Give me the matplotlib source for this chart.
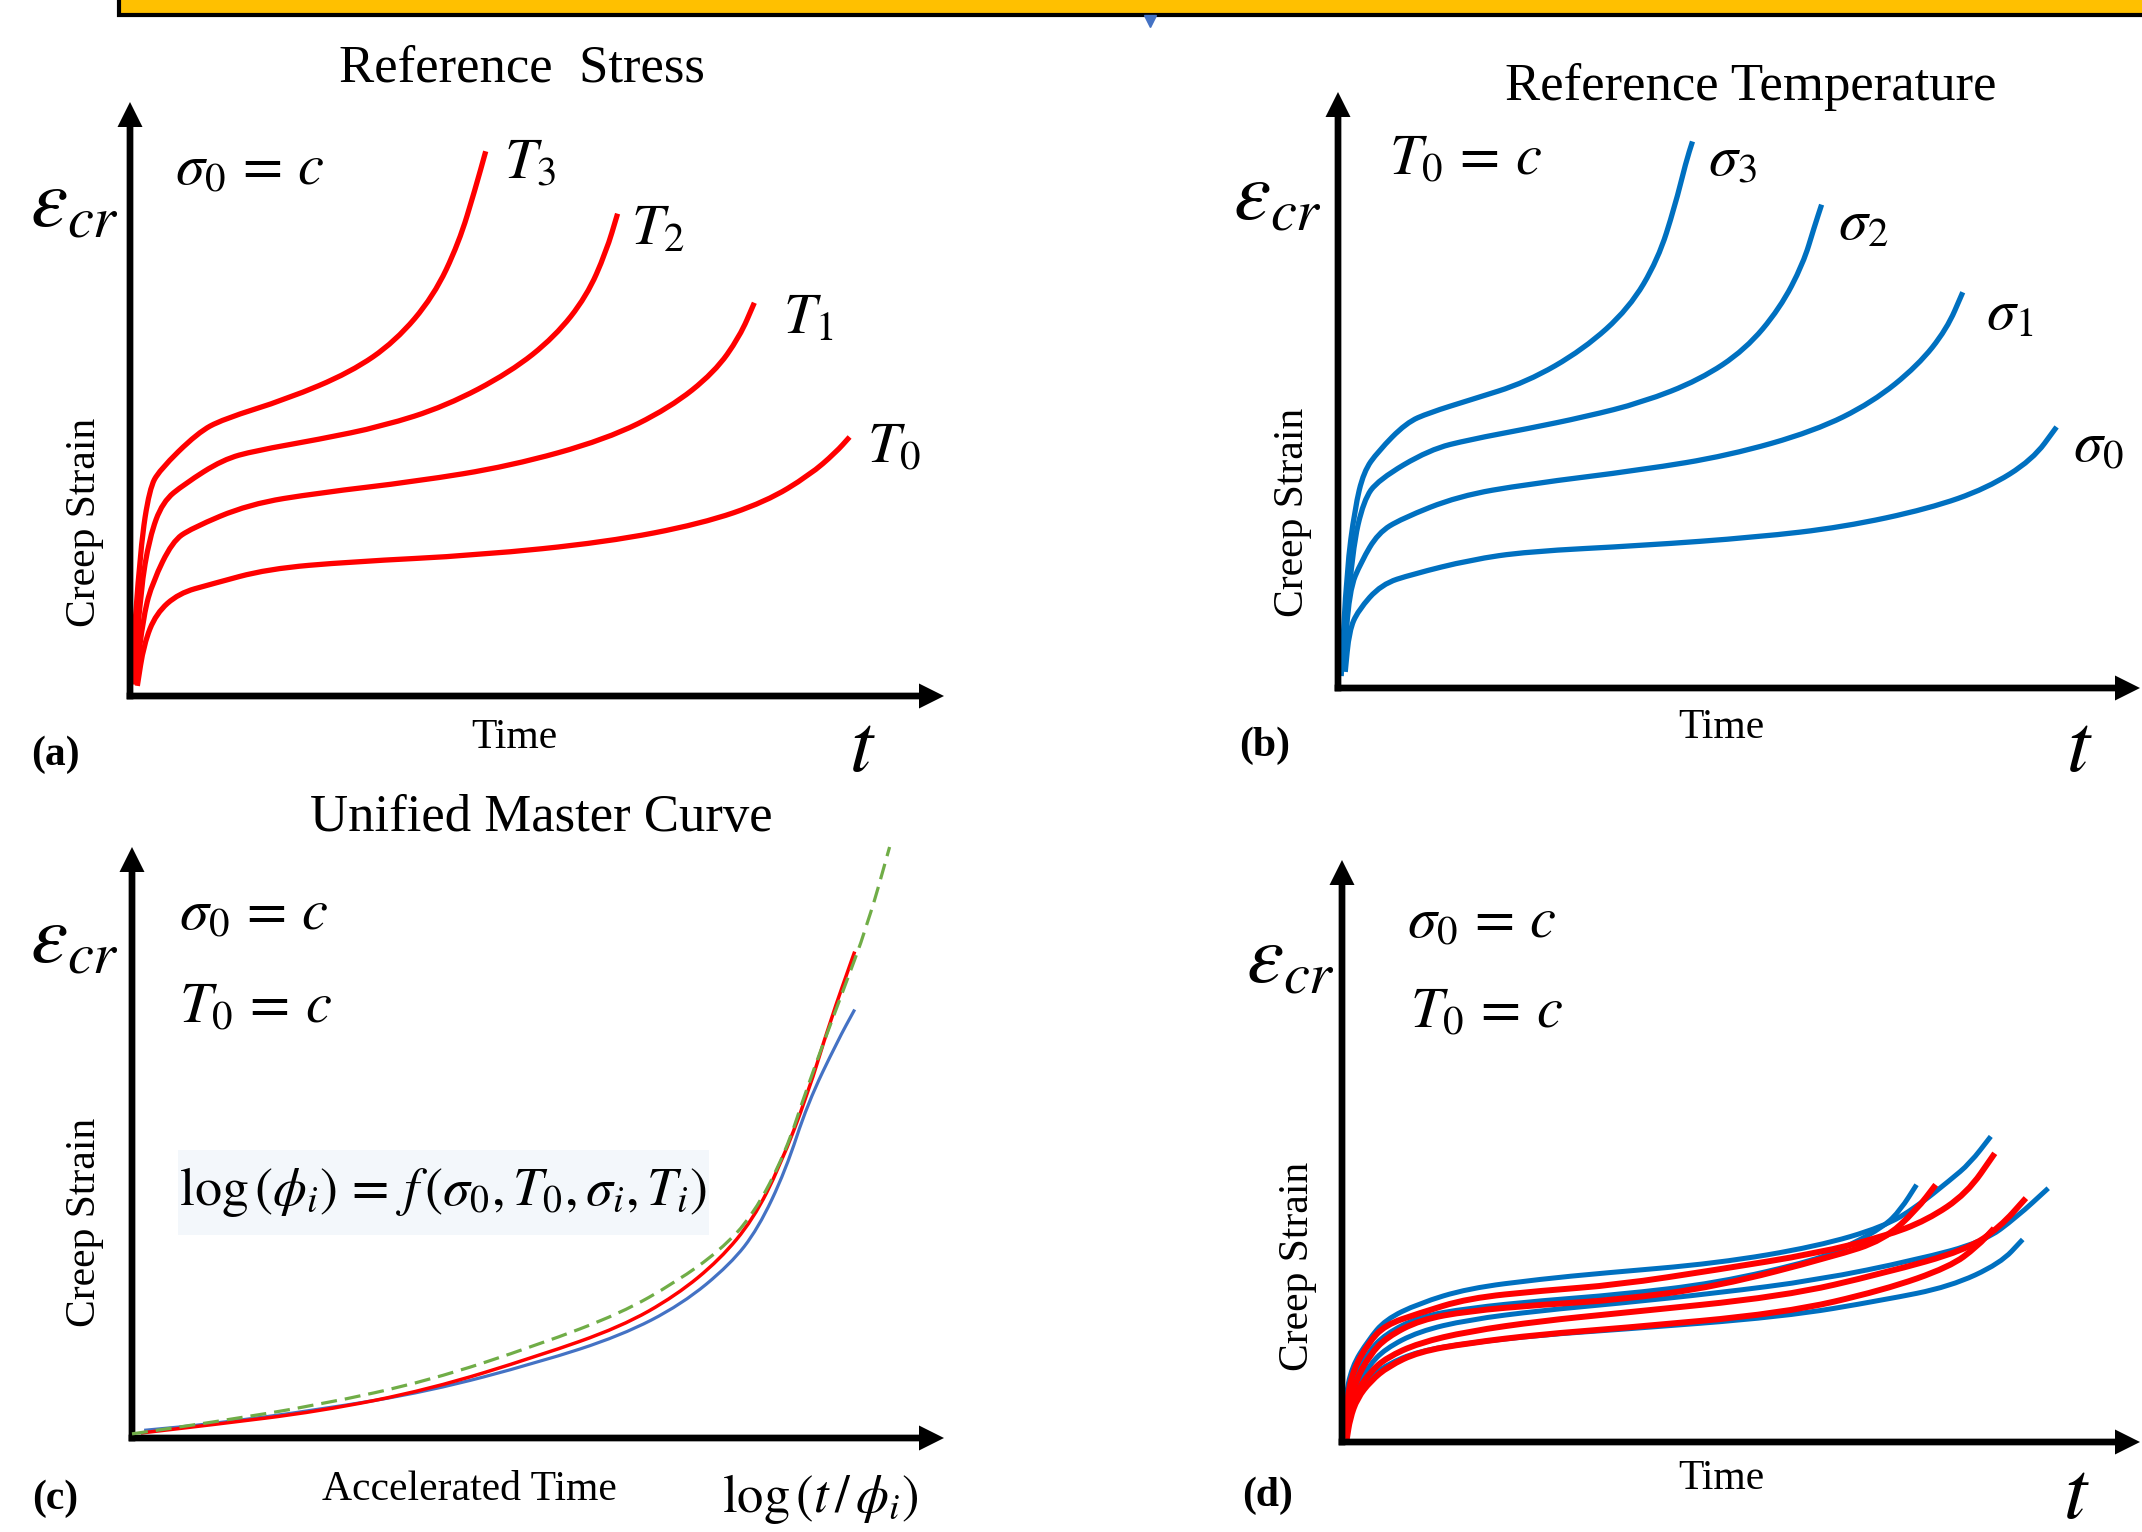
import numpy as np
import matplotlib
matplotlib.use("Agg")
import matplotlib.pyplot as plt
from matplotlib.path import Path
from matplotlib.patches import PathPatch, Rectangle
from matplotlib.lines import Line2D

plt.rcParams['font.family'] = ['Liberation Serif', 'DejaVu Serif']
plt.rcParams['mathtext.fontset'] = 'stix'

# ---------------- data (time, strain in arbitrary units 0..100) ----------------
# (a) reference stress, different temperatures
time_T3 = [0.1, 1.3, 2.4, 3.6, 8.3, 11.4, 19.3, 27.1, 32.6, 37.3, 40.4, 42.4, 43.7]
strain_T3 = [2.3, 25.2, 34.9, 38.0, 44.3, 46.6, 50.0, 54.5, 59.7, 67.3, 76.3, 85.3, 91.7]
time_T2 = [0.5, 1.3, 2.4, 4.0, 6.7, 11.4, 15.4, 23.2, 31.0, 38.8, 46.7, 52.2, 56.1, 58.5, 59.9]
strain_T2 = [2.3, 17.7, 26.7, 32.7, 35.7, 39.8, 41.3, 43.2, 45.4, 48.8, 54.5, 60.5, 67.3, 74.8, 81.2]
time_T1 = [0.6, 1.7, 2.8, 5.2, 7.5, 14.6, 23.2, 35.0, 46.7, 58.5, 66.3, 71.8, 74.9, 76.7]
strain_T1 = [1.9, 13.9, 19.2, 26.0, 28.2, 32.3, 34.2, 36.1, 38.7, 43.2, 48.5, 54.5, 60.5, 66.2]
time_T0 = [0.9, 1.7, 3.2, 6.0, 9.9, 16.9, 27.1, 42.8, 58.5, 70.2, 78.1, 83.5, 86.7, 88.4]
strain_T0 = [1.7, 8.7, 13.9, 17.3, 18.8, 21.4, 22.6, 23.7, 25.9, 29.0, 32.7, 37.2, 41.0, 43.6]
labels_a = ['$T_3$', '$T_2$', '$T_1$', '$T_0$']

# (b) reference temperature, different stresses
time_s3 = [0.4, 1.1, 2.1, 3.2, 5.0, 8.5, 11.4, 16.4, 23.5, 30.6, 36.3, 39.9, 42.0, 43.4, 44.2]
strain_s3 = [2.0, 19.8, 30.1, 36.3, 39.7, 44.5, 46.2, 48.3, 51.3, 56.8, 63.7, 71.9, 80.8, 88.3, 91.7]
time_s2 = [0.6, 1.8, 3.2, 5.0, 11.4, 16.5, 23.6, 30.8, 37.9, 45.1, 50.8, 55.1, 58.0, 59.4, 60.3]
strain_s2 = [3.4, 23.3, 31.5, 34.9, 40.0, 41.7, 43.5, 45.5, 47.9, 51.7, 56.8, 63.7, 71.2, 77.4, 81.1]
time_s1 = [0.7, 1.4, 2.9, 5.0, 7.9, 15.0, 23.6, 37.9, 48.7, 59.4, 66.6, 72.3, 75.9, 77.9]
strain_s1 = [3.1, 16.4, 21.2, 26.0, 28.4, 32.2, 34.2, 36.6, 39.0, 43.1, 47.9, 54.1, 60.2, 66.4]
time_s0 = [0.9, 1.4, 2.5, 5.4, 9.3, 16.5, 23.6, 37.9, 52.2, 63.0, 73.7, 80.9, 86.6, 89.6]
strain_s0 = [2.7, 9.6, 13.0, 17.4, 19.1, 21.5, 22.9, 23.9, 25.3, 27.0, 30.1, 33.5, 38.3, 43.8]
labels_b = [r'$\sigma_3$', r'$\sigma_2$', r'$\sigma_1$', r'$\sigma_0$']

# (c) unified master curve
acc_time_red = [1.1, 9.6, 23.1, 36.6, 50.1, 60.2, 67.0, 72.4, 76.5, 79.8, 83.2, 85.9, 89.0]
strain_red = [0.85, 2.2, 4.5, 8.2, 13.9, 18.8, 24.1, 30.2, 37.0, 46.0, 58.1, 70.2, 82.3]
acc_time_blue = [1.5, 9.6, 23.1, 36.6, 50.1, 60.2, 67.7, 73.7, 77.1, 80.5, 83.2, 86.9, 89.0]
strain_blue = [1.3, 2.35, 4.8, 7.9, 12.8, 17.3, 22.6, 29.4, 35.4, 45.3, 56.6, 67.2, 72.5]
acc_time_master = [0.0, 9.6, 23.1, 36.6, 50.1, 60.2, 67.0, 72.4, 76.5, 80.5, 83.2, 87.3, 90.6, 93.3]
strain_master = [0.7, 2.6, 5.6, 9.7, 15.8, 21.1, 26.4, 31.7, 37.7, 48.3, 59.6, 74.7, 86.8, 100.0]

# (d) overlapping curves
time_d_B1 = [0.2, 0.4, 1.2, 3.3, 5.4, 9.6, 15.8, 25.0, 32.5, 47.0, 59.5, 67.9, 72.0, 76.2, 78.7, 81.3]
strain_d_B1 = [2.1, 7.2, 12.9, 17.5, 21.0, 23.8, 26.4, 28.0, 29.0, 30.7, 33.6, 37.0, 40.4, 45.0, 47.9, 52.5]
time_d_B2 = [0.3, 0.6, 1.5, 3.3, 5.4, 9.6, 15.8, 25.0, 34.5, 47.0, 59.5, 63.6, 67.9, 70.0, 72.0]
strain_d_B2 = [1.5, 6.0, 11.0, 15.5, 18.5, 21.5, 23.0, 24.3, 25.3, 27.3, 31.3, 33.8, 37.0, 39.9, 44.2]
time_d_B3 = [0.3, 0.7, 1.6, 3.3, 5.4, 9.6, 15.8, 25.0, 34.5, 47.0, 59.5, 72.0, 80.4, 84.6, 88.5]
strain_d_B3 = [1.0, 5.0, 9.0, 13.0, 16.0, 19.0, 21.0, 22.6, 23.8, 25.6, 27.8, 31.3, 34.4, 38.7, 43.6]
time_d_B4 = [0.4, 0.8, 1.8, 3.5, 5.6, 9.6, 15.8, 25.0, 34.5, 55.3, 67.9, 76.2, 82.5, 85.3]
strain_d_B4 = [0.8, 4.5, 8.0, 11.0, 13.3, 15.6, 17.0, 18.4, 19.3, 21.5, 24.4, 26.7, 30.7, 34.8]
time_d_R1 = [0.4, 0.6, 1.4, 3.3, 5.4, 9.6, 15.8, 25.0, 34.5, 47.0, 59.5, 67.9, 73.3, 78.3, 81.8]
strain_d_R1 = [0.9, 7.2, 12.4, 17.0, 20.1, 22.1, 24.7, 26.0, 27.0, 29.6, 32.4, 35.3, 38.1, 42.7, 49.6]
time_d_R2 = [0.5, 0.8, 1.7, 3.5, 5.6, 9.8, 15.8, 25.0, 34.5, 47.0, 61.6, 67.9, 72.0, 74.4]
strain_d_R2 = [1.0, 6.0, 10.5, 15.0, 18.0, 21.0, 22.5, 23.6, 24.4, 26.7, 31.9, 34.7, 39.9, 44.2]
time_d_R3 = [0.5, 0.9, 1.8, 3.5, 5.6, 9.6, 15.8, 25.0, 34.5, 55.3, 67.9, 78.3, 82.5, 85.7]
strain_d_R3 = [1.0, 5.0, 8.5, 12.0, 14.5, 17.0, 19.0, 20.8, 22.1, 25.0, 29.0, 33.0, 37.0, 41.9]
time_d_R4 = [0.6, 1.0, 1.9, 3.6, 5.8, 9.6, 15.8, 25.0, 34.5, 55.3, 67.9, 76.2, 79.6, 81.7]
strain_d_R4 = [0.5, 4.0, 7.5, 10.5, 13.0, 15.5, 17.0, 18.5, 19.5, 22.1, 26.1, 30.1, 33.6, 36.7]

# ---------------- layout / style ----------------
W, H = 2142, 1532
DPI = 100
RED = '#FF0000'
BLUE = '#0070C0'
BLUE_C = '#4472C4'
GREEN = '#70AD47'

fig = plt.figure(figsize=(W / DPI, H / DPI), dpi=DPI)
fig.patch.set_facecolor('white')


def make_axes(origin, tip):
    ox, oy = origin
    tx, ty = tip
    ax = fig.add_axes([ox / W, 1 - oy / H, (tx - ox) / W, (oy - ty) / H])
    ax.set_xlim(0, 100)
    ax.set_ylim(0, 100)
    ax.axis('off')
    ax._ppx = (tx - ox) / 100.0
    ax._ppy = (oy - ty) / 100.0
    return ax


def draw_axes_arrows(ax, lw_px=6.7, head_px=25):
    wx = lw_px / ax._ppx
    wy = lw_px / ax._ppy
    ax.arrow(0, -wy / 2, 0, 100 + wy / 2, width=wx, head_width=head_px / ax._ppx,
             head_length=head_px / ax._ppy, length_includes_head=True,
             fc='black', ec='none', clip_on=False, zorder=5)
    ax.arrow(-wx / 2, 0, 100 + wx / 2, 0, width=wy, head_width=head_px / ax._ppy,
             head_length=head_px / ax._ppx, length_includes_head=True,
             fc='black', ec='none', clip_on=False, zorder=5)


def smooth_curve(ax, x, y, color, lw, ls='-', z=3):
    pts = np.column_stack([x, y]).astype(float)
    verts = [pts[0]]
    codes = [Path.MOVETO]
    verts.append((pts[0] + pts[1]) / 2)
    codes.append(Path.LINETO)
    for i in range(1, len(pts) - 1):
        verts += [pts[i], (pts[i] + pts[i + 1]) / 2]
        codes += [Path.CURVE3, Path.CURVE3]
    verts.append(pts[-1])
    codes.append(Path.LINETO)
    patch = PathPatch(Path(verts, codes), fill=False, edgecolor=color, lw=lw,
                      linestyle=ls, capstyle='butt', joinstyle='round',
                      clip_on=False, zorder=z)
    ax.add_patch(patch)


TITLE_FS = 38
WORD_FS = 30
MATH_FS = 42
BIG_FS = 60
PANEL_FS = 30
SIG0 = r'$\sigma_0\,=\,c$'
TEMP0 = r'$T_0\,=\,c$'


def common_text(ax, eps_xy, word, word_xy, t_xy, panel, panel_xy, cs_xy):
    ax.text(*eps_xy, r'$\varepsilon_{cr}$', fontsize=BIG_FS, ha='left', va='baseline')
    ax.text(*cs_xy, 'Creep Strain', fontsize=WORD_FS, rotation=90, ha='center', va='center')
    ax.text(*word_xy, word, fontsize=WORD_FS, ha='center', va='center')
    if t_xy is not None:
        ax.text(*t_xy, r'$t$', fontsize=BIG_FS, ha='center', va='center')
    ax.text(*panel_xy, panel, fontsize=PANEL_FS, fontweight='bold', ha='center', va='center')


# ---------------- banner ----------------
fig.add_artist(Rectangle((119 / W, 1 - 15 / H), (W - 119) / W + 0.01, 40 / H,
                         transform=fig.transFigure, facecolor='#FFC000',
                         edgecolor='black', lw=3))
fig.add_artist(Line2D([1150 / W], [1 - 21 / H], marker='v', ms=9, color='#4472C4',
                      transform=fig.transFigure))

# ---------------- panel (a) ----------------
ax_a = make_axes((130, 696), (944, 102))
draw_axes_arrows(ax_a)
for tx, sy in [(time_T3, strain_T3), (time_T2, strain_T2), (time_T1, strain_T1), (time_T0, strain_T0)]:
    smooth_curve(ax_a, tx, sy, RED, 3.8)
for lab, pos in zip(labels_a, [(45.9, 89.4), (61.6, 78.5), (80.2, 63.4), (90.6, 41.6)]):
    ax_a.text(*pos, lab, fontsize=MATH_FS, ha='left', va='center')
ax_a.text(48.2, 103.5, 'Reference  Stress', fontsize=TITLE_FS, ha='center', va='baseline')
ax_a.text(5.5, 86.0, SIG0, fontsize=MATH_FS, ha='left', va='baseline')
common_text(ax_a, (-12.3, 79.0), 'Time', (47.2, -7.1), (90.0, -9.3), '(a)', (-9.2, -9.9), (-5.5, 29.3))

# ---------------- panel (b) ----------------
ax_b = make_axes((1338, 688), (2140, 92))
draw_axes_arrows(ax_b)
for tx, sy in [(time_s3, strain_s3), (time_s2, strain_s2), (time_s1, strain_s1), (time_s0, strain_s0)]:
    smooth_curve(ax_b, tx, sy, BLUE, 3.8)
for lab, pos in zip(labels_b, [(46.1, 88.3), (62.4, 77.6), (80.8, 62.5), (91.7, 40.4)]):
    ax_b.text(*pos, lab, fontsize=MATH_FS, ha='left', va='center')
ax_b.text(51.5, 98.7, 'Reference Temperature', fontsize=TITLE_FS, ha='center', va='baseline')
ax_b.text(6.4, 86.2, TEMP0, fontsize=MATH_FS, ha='left', va='baseline')
common_text(ax_b, (-13.1, 78.7), 'Time', (47.8, -6.7), (92.4, -10.6), '(b)', (-9.2, -9.7), (-5.7, 29.4))

# ---------------- panel (c) ----------------
ax_c = make_axes((132, 1438), (944, 847))
draw_axes_arrows(ax_c)
ax_c.add_patch(Rectangle((5.7, 34.3), 65.4, 14.4, facecolor='#F3F7FB', edgecolor='none', zorder=1))
ax_c.text(38.3, 41.6, r'$\log\left(\phi_i\right)\,=\,f\,\left(\sigma_0,T_0,\sigma_i,T_i\right)$',
          fontsize=39, ha='center', va='center', zorder=2)
smooth_curve(ax_c, acc_time_blue, strain_blue, BLUE_C, 2.3, z=3)
smooth_curve(ax_c, acc_time_red, strain_red, RED, 2.5, z=4)
smooth_curve(ax_c, acc_time_master, strain_master, GREEN, 2.3, ls=(0, (5, 2.5)), z=5)
ax_c.text(50.4, 102.7, 'Unified Master Curve', fontsize=TITLE_FS, ha='center', va='baseline')
ax_c.text(5.8, 86.0, SIG0, fontsize=MATH_FS, ha='left', va='baseline')
ax_c.text(5.8, 70.2, TEMP0, fontsize=MATH_FS, ha='left', va='baseline')
ax_c.text(84.7, -10.3, r'$\log\left(t\,/\,\phi_i\right)$', fontsize=38, ha='center', va='center')
common_text(ax_c, (-12.6, 80.4), 'Accelerated Time', (41.5, -8.8), None, '(c)', (-9.5, -10.2), (-5.8, 36.5))

# ---------------- panel (d) ----------------
ax_d = make_axes((1342, 1442), (2140, 860))
draw_axes_arrows(ax_d)
for tx, sy in [(time_d_B1, strain_d_B1), (time_d_B2, strain_d_B2),
               (time_d_B3, strain_d_B3), (time_d_B4, strain_d_B4)]:
    smooth_curve(ax_d, tx, sy, BLUE, 3.6, z=3)
for tx, sy in [(time_d_R1, strain_d_R1), (time_d_R2, strain_d_R2),
               (time_d_R3, strain_d_R3), (time_d_R4, strain_d_R4)]:
    smooth_curve(ax_d, tx, sy, RED, 4.3, z=4)
ax_d.text(8.1, 86.6, SIG0, fontsize=MATH_FS, ha='left', va='baseline')
ax_d.text(8.5, 71.2, TEMP0, fontsize=MATH_FS, ha='left', va='baseline')
common_text(ax_d, (-12.0, 78.9), 'Time', (47.5, -6.4), (92.0, -9.6), '(d)', (-9.3, -9.3), (-5.5, 30.1))

fig.savefig('out.png', dpi=DPI, facecolor='white')
